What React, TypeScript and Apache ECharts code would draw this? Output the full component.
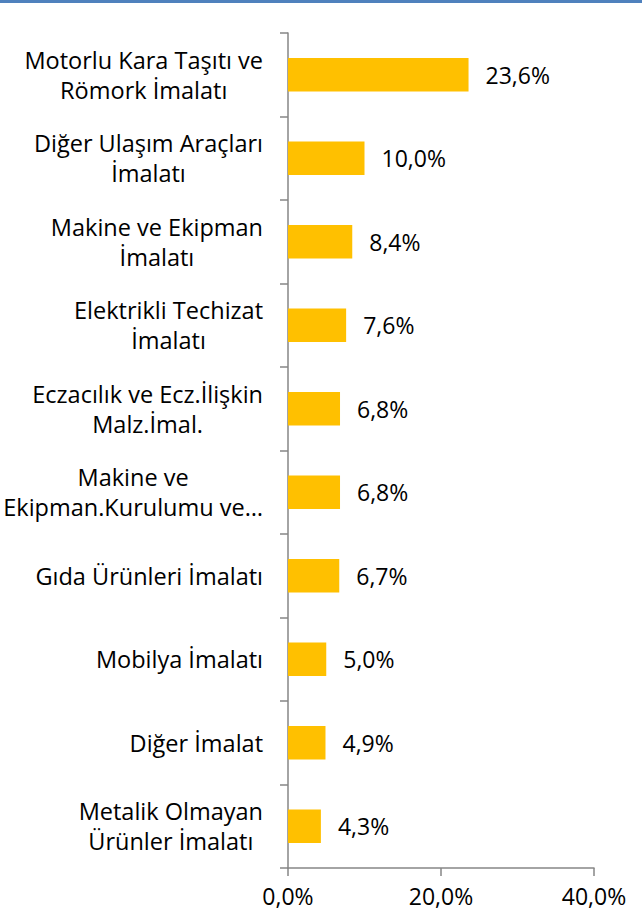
import React, { useEffect, useRef } from "react";
import * as echarts from "echarts";

const categories = [
  "Motorlu Kara Taşıtı ve\nRömork İmalatı",
  "Diğer Ulaşım Araçları\nİmalatı",
  "Makine ve Ekipman\nİmalatı",
  "Elektrikli Techizat\nİmalatı",
  "Eczacılık ve Ecz.İlişkin\nMalz.İmal.",
  "Makine ve\nEkipman.Kurulumu ve…",
  "Gıda Ürünleri İmalatı",
  "Mobilya İmalatı",
  "Diğer İmalat",
  "Metalik Olmayan\nÜrünler İmalatı",
];
const values = [23.6, 10.0, 8.4, 7.6, 6.8, 6.8, 6.7, 5.0, 4.9, 4.3];
const xMin = 0;
const xMax = 40;
const xInterval = 20;

const FONT = "'Open Sans', sans-serif";
const fmtPct = (v: number) => v.toFixed(1).replace(".", ",") + "%";

export default function App() {
  const ref = useRef<HTMLDivElement>(null);
  useEffect(() => {
    document.body.style.margin = "0";
    if (!ref.current) return;
    const chart = echarts.init(ref.current, undefined, { renderer: "svg" });
    chart.setOption({
      animation: false,
      backgroundColor: "#ffffff",
      textStyle: { fontFamily: FONT },
      graphic: [
        {
          type: "rect",
          left: 0,
          top: 0,
          shape: { width: 642, height: 3 },
          style: { fill: "#4f81bd" },
        },
      ],
      grid: { left: 288, top: 33, width: 306, height: 835, containLabel: false },
      xAxis: {
        type: "value",
        min: xMin,
        max: xMax,
        interval: xInterval,
        axisLine: { show: true, lineStyle: { color: "#868686", width: 1.5 } },
        axisTick: { show: true, length: 8, lineStyle: { color: "#868686", width: 1.5 } },
        splitLine: { show: false },
        axisLabel: {
          formatter: (v: number) => fmtPct(v),
          color: "#000",
          fontFamily: FONT,
          fontSize: 23,
          margin: 16,
        },
      },
      yAxis: {
        type: "category",
        inverse: true,
        data: categories,
        axisLine: { show: true, lineStyle: { color: "#868686", width: 1.5 } },
        axisTick: { show: true, length: 8, lineStyle: { color: "#868686", width: 1.5 } },
        axisLabel: {
          color: "#000",
          fontFamily: FONT,
          fontSize: 23.5,
          margin: 25,
          align: "right",
          lineHeight: 30,
          formatter: (v: string) =>
            v
              .split("\n")
              .map((l) => "{c|" + l + "}")
              .join("\n"),
          rich: {
            c: {
              align: "center",
              color: "#000",
              fontFamily: FONT,
              fontSize: 23.5,
              lineHeight: 30,
            },
          },
        },
      },
      series: [
        {
          type: "bar",
          data: values,
          barWidth: "40%",
          itemStyle: { color: "#ffc000" },
          label: {
            show: true,
            position: "right",
            distance: 17,
            color: "#000",
            fontFamily: FONT,
            fontSize: 23,
            formatter: (p: any) => fmtPct(p.value),
          },
        },
      ],
    });
    return () => chart.dispose();
  }, []);
  return <div ref={ref} style={{ width: 642, height: 919 }} />;
}
